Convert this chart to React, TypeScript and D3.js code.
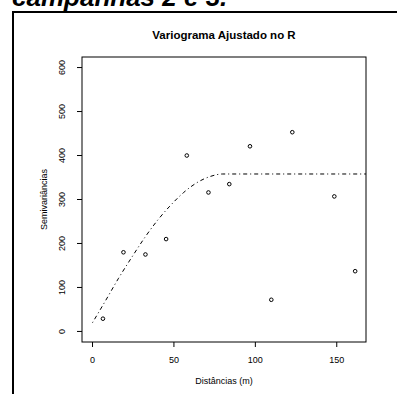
import React from "react";
import * as d3 from "d3";

const distances = [6.4, 19.0, 32.5, 45.2, 57.9, 71.2, 84.0, 96.7, 109.8, 122.7, 148.5, 161.3];
const semivariances = [29, 180, 175, 210, 400, 316, 335, 421, 72, 453, 307, 137];

const curveX = [0, 8, 16, 24, 32, 40, 48, 56, 64, 72, 80, 175];
const curveY = [20, 70, 121, 168, 213, 253, 287, 316, 338, 352, 358, 358];

const xTicks = [0, 50, 100, 150];
const yTicks = [0, 100, 200, 300, 400, 500, 600];

const title = "Variograma Ajustado no R";
const xLabel = "Distâncias (m)";
const yLabel = "Semivariâncias";
const header = "campanhas 2 e 3.";

export default function App() {
  const W = 397, H = 394;
  const left = 82, right = 366, top = 57, bottom = 342;
  const xMin = 0, xMax = 161.5;
  const xPad = (xMax - xMin) * 0.04;
  const yMin = 0, yMax = 600;
  const yPad = (yMax - yMin) * 0.04;
  const x = d3.scaleLinear().domain([xMin - xPad, xMax + xPad]).range([left, right]);
  const y = d3.scaleLinear().domain([yMin - yPad, yMax + yPad]).range([bottom, top]);

  const pts = curveX.map((v, i) => [v, curveY[i]] as [number, number]);
  const line = d3
    .line<[number, number]>()
    .x((d) => x(d[0]))
    .y((d) => y(d[1]))
    .curve(d3.curveMonotoneX)(pts) as string;

  const font = "'Liberation Sans', Arial, Helvetica, sans-serif";

  return (
    <svg
      width={W}
      height={H}
      style={{ position: "absolute", left: 0, top: 0, background: "#fff" }}
      fontFamily={font}
    >
      <defs>
        <clipPath id="plotclip">
          <rect x={left} y={top} width={right - left} height={bottom - top} />
        </clipPath>
      </defs>
      <rect x={0} y={0} width={W} height={H} fill="#fff" />
      <text x={12} y={6} fontSize={26} fontWeight="bold" fontStyle="italic" fill="#000">
        {header}
      </text>
      <line x1={12} y1={12} x2={W} y2={12} stroke="#000" strokeWidth={2} />
      <line x1={13} y1={11} x2={13} y2={H} stroke="#000" strokeWidth={2} />

      <text
        x={(left + right) / 2}
        y={39}
        textAnchor="middle"
        fontSize={11.5}
        fontWeight="bold"
        fill="#000"
      >
        {title}
      </text>

      <rect x={left} y={top} width={right - left} height={bottom - top} fill="none" stroke="#000" strokeWidth={1} />

      {xTicks.map((t) => (
        <g key={"x" + t}>
          <line x1={x(t)} x2={x(t)} y1={bottom} y2={bottom + 5} stroke="#000" strokeWidth={1} />
          <text x={x(t)} y={363} textAnchor="middle" fontSize={9} fill="#000">
            {t}
          </text>
        </g>
      ))}
      {yTicks.map((t) => (
        <g key={"y" + t}>
          <line x1={left - 5} x2={left} y1={y(t)} y2={y(t)} stroke="#000" strokeWidth={1} />
          <text
            transform={`translate(${64.5},${y(t)}) rotate(-90)`}
            textAnchor="middle"
            fontSize={9}
            fill="#000"
          >
            {t}
          </text>
        </g>
      ))}

      <text x={(left + right) / 2} y={384} textAnchor="middle" fontSize={9} fill="#000">
        {xLabel}
      </text>
      <text
        transform={`translate(${46.5},${(top + bottom) / 2}) rotate(-90)`}
        textAnchor="middle"
        fontSize={9}
        fill="#000"
      >
        {yLabel}
      </text>

      <g clipPath="url(#plotclip)">
        <path d={line} fill="none" stroke="#000" strokeWidth={1} strokeDasharray="1,3,4,3" />
      </g>

      {distances.map((d, i) => (
        <circle key={i} cx={x(d)} cy={y(semivariances[i])} r={1.8} fill="none" stroke="#000" strokeWidth={1} />
      ))}
    </svg>
  );
}
